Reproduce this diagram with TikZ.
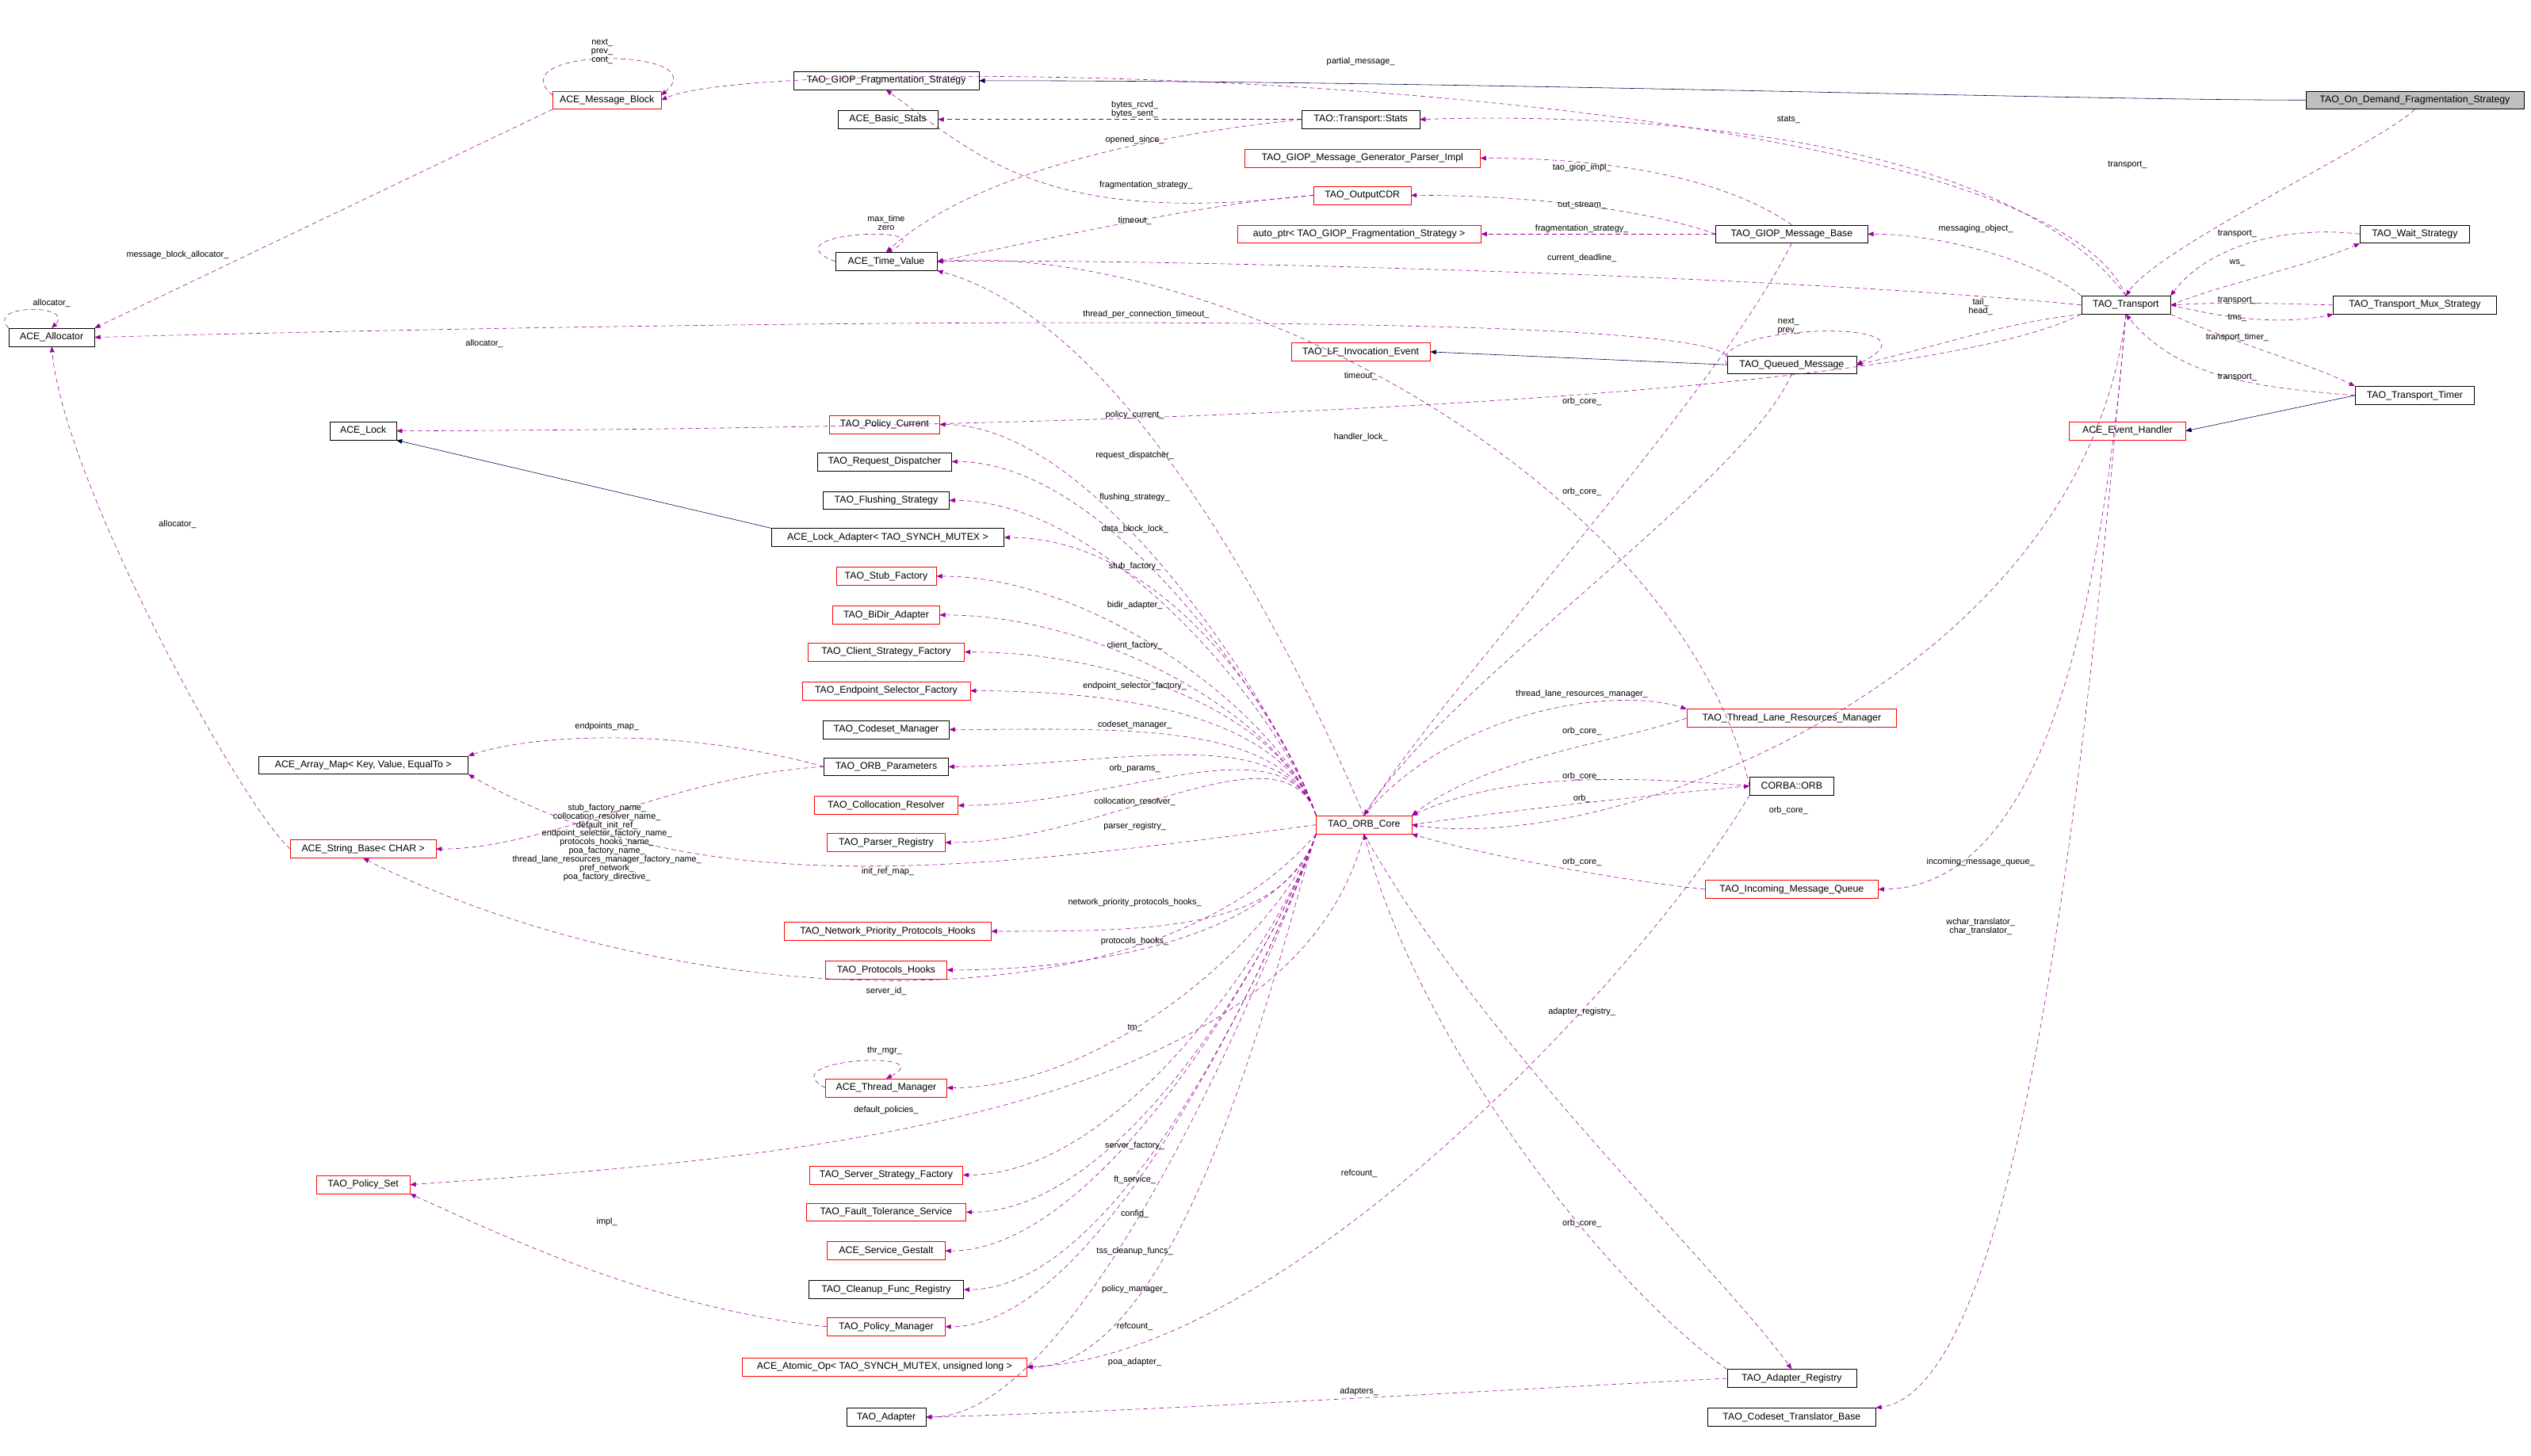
\documentclass[tikz,border=0pt]{standalone}
\usepackage{fontspec}
\setmainfont{Liberation Sans}
\usetikzlibrary{arrows.meta}
\catcode`\_=12
\begin{document}
\begin{tikzpicture}[x=0.5mm,y=-0.5mm,
 bx/.style={draw=black,fill=white,inner sep=0pt,minimum height=5.6mm,font=\fontsize{8.6}{9}\selectfont},
 rb/.style={bx,draw=red},
 gb/.style={bx,fill=black!25},
 lbl/.style={inner sep=0pt,align=center,font=\fontsize{7.6}{7.6}\selectfont},
 mem/.style={draw=violet!80!magenta,dashed,dash pattern=on 4pt off 3pt,-{Triangle[length=5pt,width=4pt]},fill=none},
 inh/.style={draw=blue!30!black,-{Triangle[length=5pt,width=4pt,fill=blue!30!black]}}]
\newcommand\bx[6]{\node[#5,minimum width={#4*0.5mm}] (#1) at (#2,#3) {#6};}
\newcommand\lb[4]{\node[lbl] (#1) at (#2,#3) {#4};}
\useasboundingbox (0,0) rectangle (1568,902);
\fill[white] (0,0) rectangle (1568,902);
% boxes
\bx{od}{1496}{62}{135}{gb}{TAO_On_Demand_Fragmentation_Strategy}
\bx{gfs}{549}{50}{115}{bx}{TAO_GIOP_Fragmentation_Strategy}
\bx{mb}{376}{62}{67}{rb}{ACE_Message_Block}
\bx{bs}{550}{74}{62}{bx}{ACE_Basic_Stats}
\bx{st}{843}{74}{73}{bx}{TAO::Transport::Stats}
\bx{gpi}{844}{98}{146}{rb}{TAO_GIOP_Message_Generator_Parser_Impl}
\bx{cdr}{844}{121}{60}{rb}{TAO_OutputCDR}
\bx{ap}{842}{145}{151}{rb}{auto_ptr< TAO_GIOP_Fragmentation_Strategy >}
\bx{tv}{549}{162}{63}{bx}{ACE_Time_Value}
\bx{gmb}{1110}{145}{94}{bx}{TAO_GIOP_Message_Base}
\bx{tr}{1317}{189}{55}{bx}{TAO_Transport}
\bx{ws}{1496}{145}{68}{bx}{TAO_Wait_Strategy}
\bx{mux}{1496}{189}{101}{bx}{TAO_Transport_Mux_Strategy}
\bx{tm}{1496}{245}{74}{bx}{TAO_Transport_Timer}
\bx{eh}{1318}{267}{72}{rb}{ACE_Event_Handler}
\bx{al}{32}{209}{53}{bx}{ACE_Allocator}
\bx{lf}{843}{218}{86}{rb}{TAO_LF_Invocation_Event}
\bx{qm}{1110}{226}{80}{bx}{TAO_Queued_Message}
\bx{lock}{225}{267}{41}{bx}{ACE_Lock}
\bx{pc}{548}{263}{68}{rb}{TAO_Policy_Current}
\bx{rd}{548}{286}{83}{bx}{TAO_Request_Dispatcher}
\bx{fs}{549}{310}{78}{bx}{TAO_Flushing_Strategy}
\bx{la}{550}{333}{144}{bx}{ACE_Lock_Adapter< TAO_SYNCH_MUTEX >}
\bx{sf}{549}{357}{62}{rb}{TAO_Stub_Factory}
\bx{bd}{549}{381}{66}{rb}{TAO_BiDir_Adapter}
\bx{csf}{549}{404}{97}{rb}{TAO_Client_Strategy_Factory}
\bx{esf}{549}{428}{104}{rb}{TAO_Endpoint_Selector_Factory}
\bx{cm}{549}{452}{78}{bx}{TAO_Codeset_Manager}
\bx{op}{549}{475}{77}{bx}{TAO_ORB_Parameters}
\bx{am}{225}{474}{130}{bx}{ACE_Array_Map< Key, Value, EqualTo >}
\bx{cr}{549}{499}{89}{rb}{TAO_Collocation_Resolver}
\bx{pr}{549}{522}{73}{rb}{TAO_Parser_Registry}
\bx{sb}{225}{526}{90}{rb}{ACE_String_Base< CHAR >}
\bx{core}{845}{511}{59}{rb}{TAO_ORB_Core}
\bx{tlr}{1110}{445}{130}{rb}{TAO_Thread_Lane_Resources_Manager}
\bx{orb}{1110}{487}{52}{bx}{CORBA::ORB}
\bx{imq}{1110}{551}{107}{rb}{TAO_Incoming_Message_Queue}
\bx{npp}{550}{577}{128}{rb}{TAO_Network_Priority_Protocols_Hooks}
\bx{ph}{549}{601}{75}{rb}{TAO_Protocols_Hooks}
\bx{thm}{549}{674}{75}{rb}{ACE_Thread_Manager}
\bx{ps}{225}{734}{58}{rb}{TAO_Policy_Set}
\bx{ssf}{549}{728}{95}{rb}{TAO_Server_Strategy_Factory}
\bx{fts}{549}{751}{99}{rb}{TAO_Fault_Tolerance_Service}
\bx{sg}{549}{775}{73}{rb}{ACE_Service_Gestalt}
\bx{cfr}{549}{799}{96}{bx}{TAO_Cleanup_Func_Registry}
\bx{pm}{549}{822}{73}{rb}{TAO_Policy_Manager}
\bx{ao}{548}{847}{176}{rb}{ACE_Atomic_Op< TAO_SYNCH_MUTEX, unsigned long >}
\bx{ad}{549}{878}{49}{bx}{TAO_Adapter}
\bx{ar}{1110}{854}{80}{bx}{TAO_Adapter_Registry}
\bx{ctb}{1110}{878}{104}{bx}{TAO_Codeset_Translator_Base}
% inheritance
\draw[inh] (od.west) .. controls +(-150,0) and +(300,0) .. (gfs.east);
\draw[inh] (tm.west) -- (eh.east);
\draw[inh] (qm.west) -- (lf.east);
\draw[inh] (la.north west) -- (lock.south east);
% members
\draw[mem] (od.south) .. controls +(-20,20) and +(20,-30) .. (tr.north);
\draw[mem] (mb.175) .. controls +(-35,-30) and +(35,-30) .. (mb.5);
\draw[mem] (mb.south west) -- (al.north east);
\draw[mem] (al.north west) .. controls +(-15,-15) and +(15,-15) .. (al.north);
\draw[mem] (tr.north) .. controls (1260,45) and (480,30) .. (mb.east);
\draw[mem] (st.west) -- (bs.east);
\draw[mem] (st.west) .. controls (700,85) and (600,110) .. (tv.north);
\draw[mem] (tr.north) .. controls (1240,80) and (1000,70) .. (st.east);
\draw[mem] (gmb.north) .. controls (1060,105) and (980,98) .. (gpi.east);
\draw[mem] (gmb.west) .. controls (1020,130) and (950,121) .. (cdr.east);
\draw[mem] (gmb.west) -- (ap.east);
\draw[mem] (cdr.west) .. controls (650,140) and (610,100) .. (gfs.south);
\draw[mem] (cdr.west) .. controls (750,125) and (640,150) .. (tv.east);
\draw[mem] (tv.west) .. controls +(-45,-18) and +(40,-18) .. (tv.north);
\draw[mem] (tr.west) .. controls (1100,170) and (700,160) .. (tv.east);
\draw[mem] (tr.north west) .. controls (1260,160) and (1200,145) .. (gmb.east);
\draw[mem] (tr.east) .. controls (1380,175) and (1430,165) .. (ws.south west);
\draw[mem] (ws.west) .. controls (1420,140) and (1370,150) .. (tr.north east);
\draw[mem] (mux.west) .. controls (1410,188) and (1380,187) .. (tr.east);
\draw[mem] (tr.east) .. controls (1390,200) and (1420,200) .. (mux.south west);
\draw[mem] (tr.south east) .. controls (1390,215) and (1430,225) .. (tm.north west);
\draw[mem] (tm.west) .. controls (1400,240) and (1350,235) .. (tr.south);
\draw[mem] (tr.south west) .. controls (1240,200) and (1200,215) .. (qm.east);
\draw[mem] (qm.180) .. controls +(-15,-25) and +(60,-30) .. (qm.east);
\draw[mem] (qm.north west) .. controls (1040,190) and (400,200) .. (al.east);
\draw[mem] (orb.west) .. controls (1040,300) and (760,150) .. (tv.east);
\draw[mem] (qm.south) .. controls (1080,300) and (900,420) .. (core.north);
\draw[mem] (gmb.south) .. controls (1060,250) and (900,420) .. (core.north);
\draw[mem] (tr.south west) .. controls (1200,240) and (800,265) .. (lock.east);
\draw[mem] (core.north) .. controls (800,400) and (700,200) .. (tv.south east);
\foreach \t in {pc,rd,fs,la,sf,bd,csf,esf,cm,op,cr,pr}
  \draw[mem] (core.north west) .. controls +(-20,-60) and +(100,0) .. (\t.east);
\foreach \t in {npp,ph,thm,ssf,fts,sg,cfr,pm,ao,ad}
  \draw[mem] (core.south west) .. controls +(-20,60) and +(100,0) .. (\t.east);
\draw[mem] (thm.west) .. controls +(-35,-18) and +(35,-18) .. (thm.north);
\draw[mem] (op.west) .. controls (420,450) and (330,455) .. (am.north east);
\draw[mem] (op.west) .. controls (420,480) and (340,526) .. (sb.east);
\draw[mem] (core.west) .. controls (600,540) and (430,560) .. (am.south east);
\draw[mem] (core.south west) .. controls (700,650) and (400,620) .. (sb.south);
\draw[mem] (core.south) .. controls (800,700) and (450,720) .. (ps.east);
\draw[mem] (pm.west) .. controls (400,810) and (300,760) .. (ps.south east);
\draw[mem] (sb.west) .. controls (150,500) and (40,300) .. (al.south);
\draw[mem] (orb.south west) .. controls (1020,600) and (800,840) .. (ao.east);
\draw[mem] (orb.west) .. controls (1000,480) and (930,480) .. (core.north east);
\draw[mem] (core.east) .. controls (950,500) and (1050,490) .. (orb.west);
\draw[mem] (tlr.west) .. controls (1000,460) and (920,470) .. (core.north east);
\draw[mem] (core.north) .. controls (900,440) and (1000,425) .. (tlr.north west);
\draw[mem] (tr.south) .. controls (1290,420) and (1000,530) .. (core.east);
\draw[mem] (imq.west) .. controls (1000,545) and (920,530) .. (core.south east);
\draw[mem] (tr.south) .. controls (1300,400) and (1260,550) .. (imq.east);
\draw[mem] (tr.south) .. controls (1290,500) and (1250,860) .. (ctb.north east);
\draw[mem] (core.south) .. controls (920,650) and (1060,780) .. (ar.north);
\draw[mem] (ar.north west) .. controls (1000,800) and (880,650) .. (core.south);
\draw[mem] (ar.west) .. controls (950,860) and (700,875) .. (ad.east);
% labels
\lb{l1}{1318}{102}{transport_}
\lb{l2}{373}{32}{next_\\prev_\\cont_}
\lb{l3}{110}{158}{message_block_allocator_}
\lb{l4}{32}{188}{allocator_}
\lb{l5}{843}{38}{partial_message_}
\lb{l6}{703}{68}{bytes_rcvd_\\bytes_sent_}
\lb{l7}{703}{87}{opened_since_}
\lb{l8}{1108}{74}{stats_}
\lb{l9}{980}{104}{tao_giop_impl_}
\lb{l10}{980}{127}{out_stream_}
\lb{l11}{980}{142}{fragmentation_strategy_}
\lb{l12}{710}{115}{fragmentation_strategy_}
\lb{l13}{703}{137}{timeout_}
\lb{l14}{549}{138}{max_time\\zero}
\lb{l15}{980}{160}{current_deadline_}
\lb{l16}{1224}{142}{messaging_object_}
\lb{l17}{1386}{145}{transport_}
\lb{l18}{1386}{163}{ws_}
\lb{l19}{1386}{186}{transport_}
\lb{l20}{1386}{197}{tms_}
\lb{l21}{1386}{209}{transport_timer_}
\lb{l22}{1386}{234}{transport_}
\lb{l23}{1227}{190}{tail_\\head_}
\lb{l24}{1108}{202}{next_\\prev_}
\lb{l25}{300}{213}{allocator_}
\lb{l26}{843}{233}{timeout_}
\lb{l27}{980}{249}{orb_core_}
\lb{l28}{980}{305}{orb_core_}
\lb{l29}{843}{271}{handler_lock_}
\lb{l30}{710}{195}{thread_per_connection_timeout_}
\lb{l31}{703}{257}{policy_current_}
\lb{l32}{703}{282}{request_dispatcher_}
\lb{l33}{703}{308}{flushing_strategy_}
\lb{l34}{703}{328}{data_block_lock_}
\lb{l35}{703}{351}{stub_factory_}
\lb{l36}{703}{375}{bidir_adapter_}
\lb{l37}{703}{400}{client_factory_}
\lb{l38}{703}{425}{endpoint_selector_factory_}
\lb{l39}{703}{449}{codeset_manager_}
\lb{l40}{703}{476}{orb_params_}
\lb{l41}{703}{497}{collocation_resolver_}
\lb{l42}{703}{512}{parser_registry_}
\lb{l43}{376}{450}{endpoints_map_}
\lb{l44}{376}{522}{stub_factory_name_\\collocation_resolver_name_\\default_init_ref_\\endpoint_selector_factory_name_\\protocols_hooks_name_\\poa_factory_name_\\thread_lane_resources_manager_factory_name_\\pref_network_\\poa_factory_directive_}
\lb{l45}{550}{540}{init_ref_map_}
\lb{l46}{703}{559}{network_priority_protocols_hooks_}
\lb{l47}{703}{583}{protocols_hooks_}
\lb{l48}{549}{614}{server_id_}
\lb{l49}{703}{637}{tm_}
\lb{l50}{548}{651}{thr_mgr_}
\lb{l51}{549}{688}{default_policies_}
\lb{l52}{703}{710}{server_factory_}
\lb{l53}{703}{731}{ft_service_}
\lb{l54}{703}{752}{config_}
\lb{l55}{703}{775}{tss_cleanup_funcs_}
\lb{l56}{703}{799}{policy_manager_}
\lb{l57}{703}{822}{refcount_}
\lb{l58}{703}{844}{poa_adapter_}
\lb{l59}{376}{757}{impl_}
\lb{l60}{110}{325}{allocator_}
\lb{l61}{842}{727}{refcount_}
\lb{l62}{980}{481}{orb_core_}
\lb{l63}{980}{495}{orb_}
\lb{l64}{980}{453}{orb_core_}
\lb{l65}{980}{430}{thread_lane_resources_manager_}
\lb{l66}{1108}{502}{orb_core_}
\lb{l67}{980}{534}{orb_core_}
\lb{l68}{1227}{534}{incoming_message_queue_}
\lb{l69}{1227}{574}{wchar_translator_\\char_translator_}
\lb{l70}{980}{627}{adapter_registry_}
\lb{l71}{980}{758}{orb_core_}
\lb{l72}{842}{862}{adapters_}
\end{tikzpicture}
\end{document}
